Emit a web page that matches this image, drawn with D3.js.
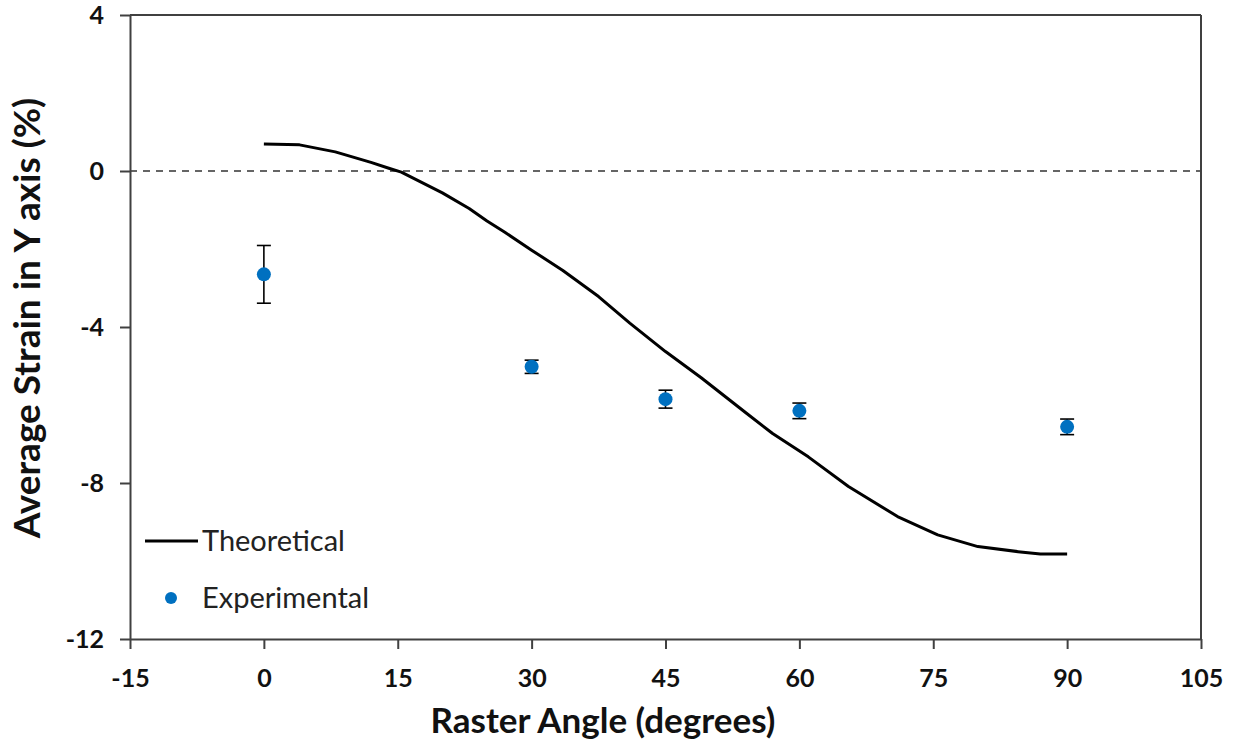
<!DOCTYPE html>
<html>
<head>
<meta charset="utf-8">
<script src="https://cdn.jsdelivr.net/npm/d3@7"></script>
<style>
  html, body { margin: 0; padding: 0; background: #fff; }
  svg { display: block; font-family: Lato, "Open Sans", sans-serif; }
</style>
</head>
<body>
<svg id="chart" width="1234" height="744"></svg>
<script>
// Theoretical strain curve (raster angle in degrees -> strain %)
const theoAngle = [0, 4, 8, 12, 14, 15.4, 20, 23, 25, 27, 30, 33.5, 37.5, 41, 45, 49, 54, 57, 61, 65.5, 71, 75.5, 80, 84.5, 87, 90];
const theoStrain = [0.69, 0.67, 0.49, 0.22, 0.07, -0.03, -0.56, -0.96, -1.28, -1.57, -2.03, -2.55, -3.22, -3.9, -4.63, -5.3, -6.2, -6.73, -7.33, -8.09, -8.86, -9.33, -9.63, -9.76, -9.82, -9.82];

// Experimental measurements with standard deviation
const expAngle = [0, 30, 45, 60, 90];
const expStrain = [-2.65, -5.02, -5.85, -6.15, -6.56];
const expError = [0.74, 0.17, 0.23, 0.2, 0.2];

const xTicks = [-15, 0, 15, 30, 45, 60, 75, 90, 105];
const yTicks = [-12, -8, -4, 0, 4];

const svg = d3.select("#chart");
const plotLeft = 130, plotRight = 1201, plotTop = 15, plotBottom = 639;

const x = d3.scaleLinear().domain([-15, 105]).range([plotLeft, plotRight]);
const y = d3.scaleLinear().domain([-12, 4]).range([plotBottom, plotTop]);

const axisColor = "#404040";
const fmt = d => String(d);   // plain hyphen for negatives

// Zero reference line
svg.append("line")
  .attr("x1", plotLeft).attr("x2", plotRight)
  .attr("y1", y(0)).attr("y2", y(0))
  .attr("stroke", "#333").attr("stroke-width", 1.6)
  .attr("stroke-dasharray", "7,6");

// Axes
const xAxis = svg.append("g")
  .attr("transform", `translate(0,${plotBottom})`)
  .call(d3.axisBottom(x).tickValues(xTicks).tickFormat(fmt).tickSize(10).tickSizeOuter(0).tickPadding(14));
const yAxis = svg.append("g")
  .attr("transform", `translate(${plotLeft},0)`)
  .call(d3.axisLeft(y).tickValues(yTicks).tickFormat(fmt).tickSize(10).tickSizeOuter(0).tickPadding(16));

[xAxis, yAxis].forEach(g => {
  g.select(".domain").attr("stroke", axisColor).attr("stroke-width", 2);
  g.selectAll(".tick line").attr("stroke", axisColor).attr("stroke-width", 2);
  g.selectAll(".tick text")
    .attr("fill", "#111")
    .style("font-family", "Lato, sans-serif")
    .style("font-weight", "bold")
    .style("font-size", "25px");
});
xAxis.selectAll(".tick text").attr("dy", "0.95em");

// Top and right frame edges
svg.append("line").attr("x1", plotLeft).attr("x2", plotRight).attr("y1", plotTop).attr("y2", plotTop)
  .attr("stroke", axisColor).attr("stroke-width", 2);
svg.append("line").attr("x1", plotRight).attr("x2", plotRight).attr("y1", plotTop).attr("y2", plotBottom)
  .attr("stroke", axisColor).attr("stroke-width", 2);

// Theoretical curve
const theo = theoAngle.map((a, i) => [a, theoStrain[i]]);
svg.append("path")
  .datum(theo)
  .attr("fill", "none")
  .attr("stroke", "#000")
  .attr("stroke-width", 3)
  .attr("stroke-linejoin", "round")
  .attr("d", d3.line().x(d => x(d[0])).y(d => y(d[1])));

// Experimental points with error bars
const exp = expAngle.map((a, i) => ({ a, v: expStrain[i], e: expError[i] }));
const eb = svg.append("g").attr("stroke", "#000").attr("stroke-width", 1.6);
exp.forEach(d => {
  eb.append("line").attr("x1", x(d.a)).attr("x2", x(d.a))
    .attr("y1", y(d.v + d.e)).attr("y2", y(d.v - d.e));
  [d.v + d.e, d.v - d.e].forEach(v => {
    eb.append("line").attr("x1", x(d.a) - 7).attr("x2", x(d.a) + 7)
      .attr("y1", y(v)).attr("y2", y(v));
  });
});
svg.append("g").selectAll("circle")
  .data(exp).join("circle")
  .attr("cx", d => x(d.a)).attr("cy", d => y(d.v))
  .attr("r", 7).attr("fill", "#0070C0");

// Legend
svg.append("line").attr("x1", 145).attr("x2", 198).attr("y1", 541).attr("y2", 541)
  .attr("stroke", "#000").attr("stroke-width", 3);
svg.append("text").attr("x", 202).attr("y", 551).text("Theoretical")
  .attr("fill", "#222").style("font-size", "29px");
svg.append("circle").attr("cx", 171).attr("cy", 598).attr("r", 6).attr("fill", "#0070C0");
svg.append("text").attr("x", 202).attr("y", 608).text("Experimental")
  .attr("fill", "#222").style("font-size", "29px");

// Axis titles
svg.append("text")
  .attr("x", 603).attr("y", 733)
  .attr("text-anchor", "middle")
  .style("font-weight", "bold").style("font-size", "35px").attr("fill", "#111")
  .text("Raster Angle (degrees)");
svg.append("text")
  .attr("transform", "translate(40,318) rotate(-90)")
  .attr("text-anchor", "middle")
  .style("font-weight", "bold").style("font-size", "37px").attr("fill", "#111")
  .text("Average Strain in Y axis (%)");
</script>
</body>
</html>
